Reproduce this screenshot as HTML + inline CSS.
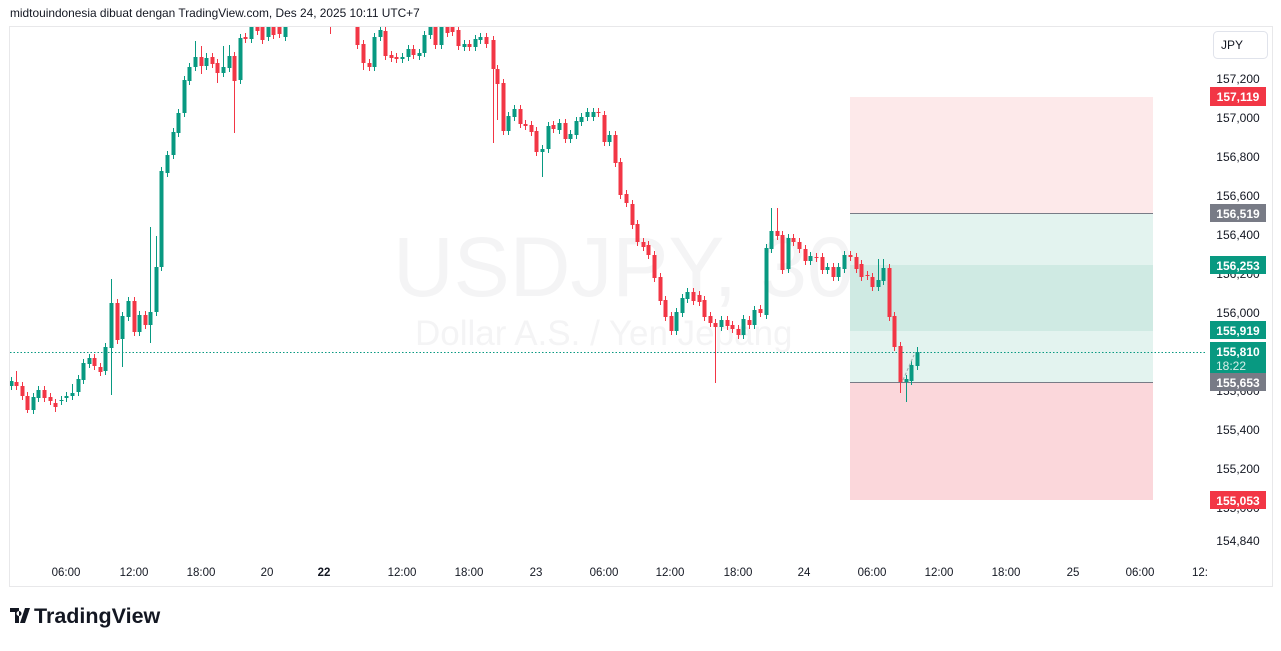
<!DOCTYPE html>
<html><head><meta charset="utf-8"><style>
body{margin:0;background:#fff;width:1281px;height:646px;overflow:hidden;font-family:"Liberation Sans",sans-serif}
</style></head><body>
<svg id="s" width="1281" height="646" xmlns="http://www.w3.org/2000/svg" font-family="Liberation Sans, sans-serif">
<text x="10" y="17" font-size="11.9" fill="#131722">midtouindonesia dibuat dengan TradingView.com, Des 24, 2025 10:11 UTC+7</text>
<rect x="9.5" y="26.5" width="1263" height="560" fill="#fff" stroke="#e8e8ea"/>
<defs><clipPath id="c"><rect x="10" y="27" width="1197" height="533"/></clipPath></defs>
<text x="393" y="296" font-size="84" fill="#f4f4f5">USDJPY, 30</text>
<text x="415" y="345" font-size="35" fill="#f4f4f5">Dollar A.S. / Yen Jepang</text>
<rect x="850" y="97" width="303" height="116" fill="#fde9ea"/>
<rect x="850" y="213" width="303" height="169" fill="#e3f3ef"/>
<rect x="850" y="265" width="303" height="66" fill="#cfeae3"/>
<rect x="850" y="382" width="303" height="118" fill="#fbd7db"/>
<line x1="850" y1="213.5" x2="1153" y2="213.5" stroke="#787b86"/>
<line x1="850" y1="382.5" x2="1153" y2="382.5" stroke="#787b86"/>
<line x1="10" y1="352.5" x2="1207" y2="352.5" stroke="#089981" stroke-dasharray="1.5,2"/>
<g id="cd" clip-path="url(#c)"></g>
<line x1="903" y1="380" x2="914" y2="355" stroke="#9aa" stroke-dasharray="3,2"/>
<g font-size="11.5" fill="#131722" text-anchor="middle">
<text x="66" y="576">06:00</text><text x="134" y="576">12:00</text><text x="201" y="576">18:00</text><text x="267" y="576">20</text><text x="324" y="576" font-weight="bold">22</text><text x="402" y="576">12:00</text><text x="469" y="576">18:00</text><text x="536" y="576">23</text><text x="604" y="576">06:00</text><text x="670" y="576">12:00</text><text x="738" y="576">18:00</text><text x="804" y="576">24</text><text x="872" y="576">06:00</text><text x="939" y="576">12:00</text><text x="1006" y="576">18:00</text><text x="1073" y="576">25</text><text x="1140" y="576">06:00</text><text x="1200" y="576">12:</text>
</g>
<rect x="1213.5" y="31.5" width="54" height="27" rx="4" fill="#fff" stroke="#e0e3eb"/>
<text x="1232" y="49" font-size="12" fill="#131722" text-anchor="middle">JPY</text>
<g font-size="12" fill="#131722" text-anchor="middle">
<text x="1238" y="83">157,200</text><text x="1238" y="122">157,000</text><text x="1238" y="161">156,800</text><text x="1238" y="200">156,600</text><text x="1238" y="239">156,400</text><text x="1238" y="278">156,200</text><text x="1238" y="317">156,000</text><text x="1238" y="395">155,600</text><text x="1238" y="434">155,400</text><text x="1238" y="473">155,200</text><text x="1238" y="512">155,000</text><text x="1238" y="545">154,840</text>
</g>
<g font-size="12" font-weight="bold" fill="#fff" text-anchor="middle">
<rect x="1210" y="87" width="56" height="19" fill="#f23645"/><text x="1238" y="101">157,119</text>
<rect x="1210" y="204" width="56" height="18" fill="#787b86"/><text x="1238" y="218">156,519</text>
<rect x="1210" y="256" width="56" height="18" fill="#089981"/><text x="1238" y="270">156,253</text>
<rect x="1210" y="321" width="56" height="18" fill="#089981"/><text x="1238" y="335">155,919</text>
<rect x="1210" y="342" width="56" height="31" fill="#089981"/><text x="1238" y="356">155,810</text><text x="1231" y="370" font-weight="normal" fill="#d8f0ea">18:22</text>
<rect x="1210" y="373" width="56" height="18" fill="#787b86"/><text x="1238" y="387">155,653</text>
<rect x="1210" y="491" width="56" height="18" fill="#f23645"/><text x="1238" y="505">155,053</text>
</g>
<g transform="translate(10,606)"><path d="M0 2h9v15h-4v-11h-5z M10 17l5-15h5l-5 15z M9 5a2.5 2.5 0 1 0 0.01 0z" fill="#131722"/></g>
<text x="34" y="623" font-size="21.5" font-weight="bold" fill="#131722">TradingView</text>
</svg>
<script>
var G="#089981",R="#f23645";
var d=[[11,381,386,G],[16,382,386,R,371],[22,386,396,R],[27,396,410,R,0,413],[33,397,410,G],[38,390,398,G],[44,390,398,R],[50,397,401,R],[55,403,407,R,0,412],[61,400,401,G],[66,396,398,G],[72,393,396,G,384],[78,379,392,G],[83,363,380,G],[89,358,364,G],[94,358,366,R],[100,367,372,R],[105,347,371,G],[111,303,348,G,279,395],[117,303,340,R],[122,316,339,G,0,367],[128,301,317,G],[134,301,332,R],[139,315,332,G],[145,315,325,R],[150,312,325,G,227,343],[156,267,312,G,236],[161,171,267,G],[167,155,173,G],[173,132,155,G],[178,113,133,G],[184,80,113,G],[189,67,81,G],[195,57,67,G,41],[201,57,66,R,46,74],[206,58,66,G,53],[212,57,64,R],[217,63,73,R,0,83],[223,67,73,G,46],[229,56,68,G,45],[234,56,81,R,0,133],[240,38,80,G],[245,37,39,R],[251,27,39,G],[257,20,31,R],[262,18,40,R],[268,20,37,G],[273,15,35,R],[279,15,34,R],[285,18,37,G],[290,10,20,G],[296,5,15,R],[302,0,10,G],[330,20,22,R,0,34],[357,20,45,R],[363,44,63,R,0,70],[369,63,67,R],[374,37,67,G],[380,30,37,G],[385,31,56,R],[391,55,58,R],[396,57,59,R],[402,57,59,G],[408,49,57,G],[413,49,55,R],[419,53,56,G],[424,35,53,G],[430,27,35,G],[435,20,45,R],[441,22,45,G],[447,22,33,R],[452,22,32,R],[458,30,46,R],[464,44,47,G],[469,44,47,R],[475,39,47,G],[480,37,40,G],[486,37,44,R],[493,40,69,R,0,143],[497,69,84,R,0,120],[503,83,131,R],[508,116,131,G],[514,109,117,G],[520,109,124,R],[525,124,126,R],[531,125,132,R],[536,131,152,R],[542,149,152,G,0,177],[548,126,149,G],[553,125,129,R],[559,123,130,G],[565,123,139,R],[570,134,139,G],[576,121,135,G],[581,117,122,G],[587,112,117,G],[593,112,117,G],[598,112,113,R],[604,115,142,R],[609,135,142,G],[615,135,163,R],[620,162,195,R],[626,194,203,R],[632,204,225,R],[637,224,242,R],[643,242,247,R],[648,245,255,R],[654,255,278,R],[660,277,301,R],[665,300,317,R],[671,316,331,R],[676,312,331,G],[682,298,313,G],[687,292,299,G],[693,292,301,R],[699,295,302,R],[704,300,317,R],[710,316,323,R],[715,323,327,R,0,383],[721,320,327,G],[727,320,326,R],[732,325,329,R],[738,329,335,R],[743,319,335,G],[749,320,325,R],[754,310,325,G],[760,309,313,R],[766,248,315,G],[771,231,249,G,208],[777,231,236,R,208],[782,235,270,R],[788,238,269,G],[793,238,242,R],[799,242,249,R],[805,249,261,R],[810,256,261,G],[816,257,258,R],[822,257,270,R],[827,267,270,G],[833,267,277,R],[838,267,277,G],[844,255,269,G],[850,255,257,R],[856,257,269,R],[861,264,277,R],[867,275,276,R],[872,277,287,R],[878,280,287,G,259],[883,268,281,G,259],[889,268,317,R],[894,316,347,R],[900,346,382,R,0,393],[906,379,382,G,0,402],[911,365,381,G],[917,352,366,G,347]];
var s="";d.forEach(function(a){var x=a[0],t=a[1],b=a[2],c=a[3],h=a[4]||t-4,l=a[5]||b+4;
s+='<line x1="'+(x+.5)+'" y1="'+h+'" x2="'+(x+.5)+'" y2="'+l+'" stroke="'+c+'"/>';
s+='<rect x="'+(x-1.5)+'" y="'+t+'" width="4" height="'+Math.max(1,b-t)+'" fill="'+c+'"/>';});
document.getElementById("cd").innerHTML=s;
</script>
</body></html>
